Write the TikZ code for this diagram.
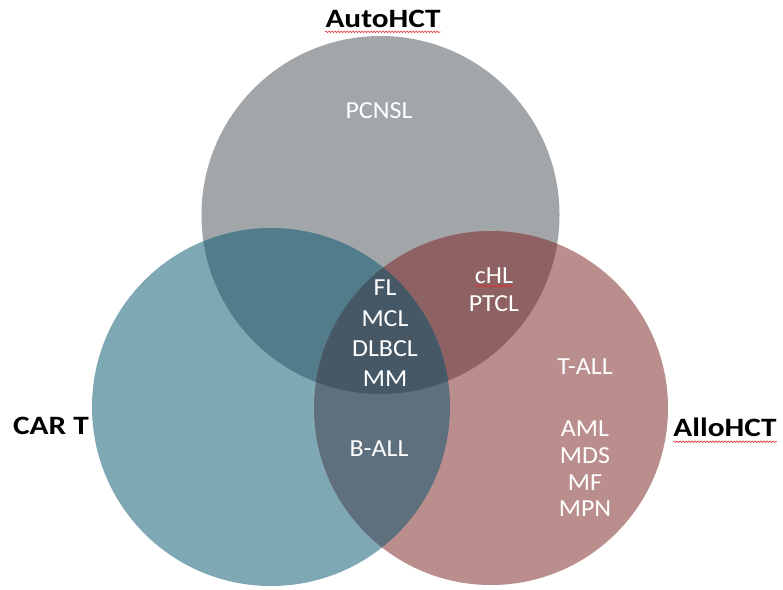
\documentclass[tikz,border=0pt]{standalone}
\usepackage{fontspec}
\setmainfont{Carlito}
\usetikzlibrary{decorations.pathmorphing}
\definecolor{cGray}{HTML}{A2A6A9}
\definecolor{cTeal}{HTML}{7FA8B5}
\definecolor{cPink}{HTML}{BB8E8E}
\definecolor{cTG}{HTML}{527C8A}
\definecolor{cGP}{HTML}{8E6163}
\definecolor{cTP}{HTML}{5E6F7E}
\definecolor{cAll}{HTML}{465866}
\definecolor{cWave}{HTML}{E03030}
\tikzset{
  inlab/.style={text=white, inner sep=0pt, anchor=base, xscale=1.06, font=\fontsize{24.5}{29}\selectfont},
  setlab/.style={text=black, inner sep=0pt, anchor=base, xscale=1.18, font=\fontsize{26.5}{31}\selectfont\bfseries},
  spell/.style={cWave, line width=0.6pt, decorate, decoration={snake, amplitude=0.8pt, segment length=3pt}}
}
\begin{document}
\begin{tikzpicture}[x=1pt,y=-1pt]
\useasboundingbox (0,0) rectangle (783,589);
\fill[white] (0,0) rectangle (783,589);
\coordinate (T) at (380.5,215);
\coordinate (L) at (271,407);
\coordinate (R) at (491,408);
\def\rT{179pt}\def\rL{179pt}\def\rR{177pt}
\fill[cGray] (T) circle[radius=\rT];
\fill[cTeal] (L) circle[radius=\rL];
\fill[cPink] (R) circle[radius=\rR];
\begin{scope}
  \clip (T) circle[radius=\rT];
  \fill[cTG] (L) circle[radius=\rL];
\end{scope}
\begin{scope}
  \clip (T) circle[radius=\rT];
  \fill[cGP] (R) circle[radius=\rR];
\end{scope}
\begin{scope}
  \clip (L) circle[radius=\rL];
  \fill[cTP] (R) circle[radius=\rR];
\end{scope}
\begin{scope}
  \clip (T) circle[radius=\rT];
  \clip (L) circle[radius=\rL];
  \fill[cAll] (R) circle[radius=\rR];
\end{scope}
% set labels
\node[setlab] (auto) at (383,27.3) {AutoHCT};
\node[setlab] (cart) at (51,434) {CAR T};
\node[setlab] (allo) at (725,436.7) {AlloHCT};
% inside labels
\node[inlab] (pcnsl) at (379,118) {PCNSL};
\node[inlab] (fl) at (385,295) {FL};
\node[inlab] (mcl) at (385,326.5) {MCL};
\node[inlab] (dlbcl) at (385,356.7) {DLBCL};
\node[inlab] (mm) at (385,386.7) {MM};
\node[inlab] (chl) at (494,283) {cHL};
\node[inlab] (ptcl) at (494,311.7) {PTCL};
\node[inlab] (ball) at (379,456.7) {B-ALL};
\node[inlab] (tall) at (585,374) {T-ALL};
\node[inlab] (aml) at (585,436.7) {AML};
\node[inlab] (mds) at (585,463) {MDS};
\node[inlab] (mf) at (585,490) {MF};
\node[inlab] (mpn) at (585,516.7) {MPN};
% spell-check underlines
\draw[spell] ([yshift=-4.5pt]auto.base west) -- ([yshift=-4.5pt]auto.base east);
\draw[spell] ([yshift=-5pt]allo.base west) -- ([yshift=-5pt]allo.base east);
\draw[spell] ([yshift=-3pt]chl.base west) -- ([yshift=-3pt]chl.base east);
\end{tikzpicture}
\end{document}
